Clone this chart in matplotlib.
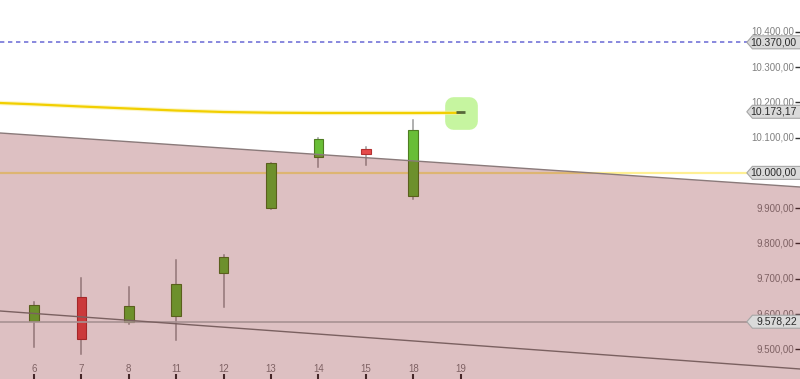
import matplotlib
matplotlib.use("Agg")
import matplotlib.pyplot as plt
import numpy as np
from matplotlib import transforms
from matplotlib.patches import Polygon
from matplotlib.markers import MarkerStyle
from matplotlib.ticker import FuncFormatter

plt.rcParams['font.family'] = ['Liberation Sans', 'DejaVu Sans']

# ---------------- data ----------------
dates = ['6', '7', '8', '11', '12', '13', '14', '15', '18', '19']
opens = [9581, 9647, 9577, 9594, 9717, 9900, 10044, 10067, 9935, 10173]
highs = [9635, 9703, 9676, 9753, 9767, 10029, 10100, 10074, 10150, 10173]
lows = [9507, 9486, 9573, 9526, 9619, 9897, 10018, 10022, 9925, 10173]
closes = [9626, 9529, 9623, 9684, 9763, 10027, 10095, 10053, 10122, 10173]

# moving average (index -1 .. 9)
ma_index = [-1, 0, 1, 2, 3, 4, 5, 6, 7, 8, 9]
ma_values = [10199.5, 10194.3, 10188.1, 10182.4, 10176.7, 10172.5, 10170.5,
             10169.7, 10169.7, 10169.7, 10170.2]

# channel lines (index, value)
upper_idx = [-1, 17]
upper_val = [10115.6, 9952.4]
lower_idx = [-1, 17]
lower_val = [9611.4, 9436.1]

level_blue = 10370.00
level_yellow = 10000.00
level_gray = 9578.22
last_price = 10173.17

flag_values = [10370.00, 10173.17, 10000.00, 9578.22]
yticks = [9500, 9600, 9700, 9800, 9900, 10000, 10100, 10200, 10300, 10400]


def de_fmt(v):
    return f"{v:,.2f}".replace(',', 'X').replace('.', ',').replace('X', '.')


# ---------------- figure ----------------
fig = plt.figure(figsize=(8.0, 3.79), dpi=100)
ax = fig.add_axes([0, 0, 1, 1])
ax.set_xlim(-0.717, 16.16)
ax.set_ylim(9415.9, 10489.9)
for s in ax.spines.values():
    s.set_visible(False)

x = np.arange(len(dates))
body_w = 0.2
green = '#69be37'
green_edge = '#4f7d22'
red = '#e64b4b'
red_edge = '#b43232'

for i in range(len(dates)):
    o, h, l, c = opens[i], highs[i], lows[i], closes[i]
    if o == c:
        continue
    ax.plot([x[i], x[i]], [l, h], color='#9a9a9a', lw=1.1, zorder=2.0)
    up = c > o
    ax.bar(x[i], abs(c - o), bottom=min(o, c), width=body_w,
           color=green if up else red, edgecolor=green_edge if up else red_edge,
           linewidth=0.8, zorder=2.1)

# horizontal yellow level (beneath the overlay)
ax.axhline(level_yellow, color='#fff094', lw=1.6, zorder=2.05)

# pink overlay from upper channel line down
xx = np.array([-1.0, 17.0])
up_line = np.interp(xx, upper_idx, upper_val)
ax.fill_between(xx, up_line, 9300, color=(123 / 255, 7 / 255, 15 / 255), alpha=0.25,
                lw=0, zorder=3)

# channel lines
ax.plot(upper_idx, upper_val, color='#8a7a7a', lw=1.0, zorder=3.5)
ax.plot(lower_idx, lower_val, color='#7a6060', lw=1.0, zorder=3.5)

# gray level
ax.axhline(level_gray, color='#a89292', lw=1.2, zorder=3.4)

# blue dashed level
ax.axhline(level_blue, color='#7474d8', lw=1.2, ls=(0, (2.6, 2.2)), zorder=3.4)

# highlight and moving average
ms = MarkerStyle('s', joinstyle='round')
ax.plot([x[-1]], [closes[-1] - 2], marker=ms, markersize=11, markeredgewidth=12,
        color='#c6f5a0', markeredgecolor='#c6f5a0', zorder=3.6)
ax.plot(ma_index, ma_values, color='#fbf0a0', lw=3.2, zorder=3.7, alpha=0.6,
        solid_capstyle='butt')
ax.plot(ma_index, ma_values, color='#f2cf00', lw=1.6, zorder=3.8, solid_capstyle='butt')
# doji of the last day
ax.plot([x[-1] - body_w / 2, x[-1] + body_w / 2], [closes[-1], closes[-1]],
        color='#56683a', lw=2, zorder=3.9, solid_capstyle='butt')

# ticks
ax.set_xticks(x)
ax.set_xticklabels(dates)
ax.tick_params(axis='x', direction='in', pad=-11, length=3.5, width=1.5,
               colors='#333333', labelcolor='#808080', labelsize=7)

ax.yaxis.tick_right()
ax.set_yticks(yticks)
ax.yaxis.set_major_formatter(FuncFormatter(
    lambda v, p: '' if v == level_yellow else de_fmt(v)))
ax.tick_params(axis='y', direction='in', pad=-4, length=3.5, width=1,
               colors='#333333', labelcolor='#808080', labelsize=7)
for lab in ax.get_yticklabels():
    lab.set_horizontalalignment('right')
    lab.set_verticalalignment('center')

# flags
blend = transforms.blended_transform_factory(ax.transAxes, ax.transData)
half_h = 6.5 * (ax.get_ylim()[1] - ax.get_ylim()[0]) / 379.0
for v in flag_values:
    poly = Polygon([[0.9335, v], [0.9405, v + half_h], [1.01, v + half_h],
                    [1.01, v - half_h], [0.9405, v - half_h]], closed=True,
                   transform=blend, facecolor='#dadada', edgecolor='#a6a6a6',
                   lw=0.8, zorder=5)
    ax.add_patch(poly)
    ax.text(0.996, v, de_fmt(v), transform=blend, ha='right', va='center',
            fontsize=7.5, color='#2a2a2a', zorder=6)

fig.savefig('out.png', dpi=100)
